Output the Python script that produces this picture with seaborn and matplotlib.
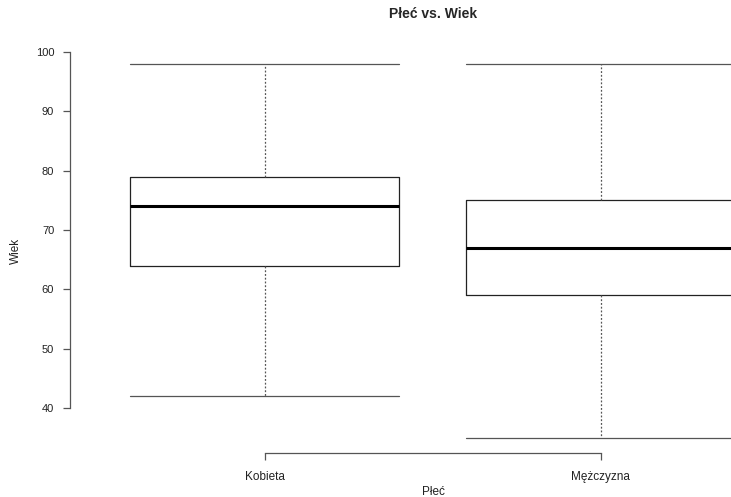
import matplotlib
matplotlib.use("Agg")
import matplotlib.pyplot as plt
import seaborn as sns
import pandas as pd

# Five-number summaries (min, Q1, median, Q3, max) of age per sex
plec = ["Kobieta", "Mężczyzna"]
wiek_kobieta = [42, 64, 74, 79, 98]
wiek_mezczyzna = [35, 59, 67, 75, 98]
y_ticks = [40, 50, 60, 70, 80, 90, 100]

df = pd.DataFrame({
    "Płeć": [plec[0]] * len(wiek_kobieta) + [plec[1]] * len(wiek_mezczyzna),
    "Wiek": wiek_kobieta + wiek_mezczyzna,
})

sns.set_style("ticks")
plt.rcParams["font.family"] = ["Liberation Sans", "DejaVu Sans"]

W, H = 731, 497
fig = plt.figure(figsize=(W / 100, H / 100), dpi=100)
left_px, right_px, top_px, bottom_px = 69.5, 796, 49, 452.5
ax_w, ax_h = right_px - left_px, bottom_px - top_px
ax = fig.add_axes([left_px / W, 1 - bottom_px / H, ax_w / W, ax_h / H])

sns.boxplot(
    data=df, x="Płeć", y="Wiek", order=plec, ax=ax,
    whis=(0, 100), width=0.8, fill=False, color="#222222",
    linewidth=0.9, capwidths=0.8,
    medianprops=dict(color="black", linewidth=2.2),
    whiskerprops=dict(color="#555555", linestyle=(0, (1.5, 1.5)), linewidth=0.9),
    capprops=dict(color="#555555", linewidth=0.9),
    boxprops=dict(color="#222222", linewidth=0.9),
)

ax.set_xlim(-0.58, 1.58)
ax.set_ylim(32.48, 100.52)
ax.set_yticks(y_ticks)
ax.set_yticklabels([str(v) for v in y_ticks])

for side in ("top", "right"):
    ax.spines[side].set_visible(False)
ax.spines["left"].set_bounds(40, 100)
ax.spines["bottom"].set_bounds(0, 1)
for side in ("left", "bottom"):
    ax.spines[side].set_color("#555555")
    ax.spines[side].set_linewidth(0.9)

ax.tick_params(axis="both", length=5, width=0.9, color="#555555",
               labelsize=8, labelcolor="#222222", pad=6)
ax.tick_params(axis="x", labelsize=8.5, pad=8)

ax.set_xlabel("Płeć", fontsize=8.5, color="#222222")
ax.set_ylabel("Wiek", fontsize=8.5, color="#222222")
# label positions in axes coordinates
ax.xaxis.set_label_coords((433 - left_px) / ax_w, (bottom_px - 486) / ax_h)
ax.yaxis.set_label_coords((22 - left_px) / ax_w, 0.5)
ax.set_title("Płeć vs. Wiek", fontsize=10, fontweight="bold", pad=22)

fig.savefig("out.png", dpi=100)
